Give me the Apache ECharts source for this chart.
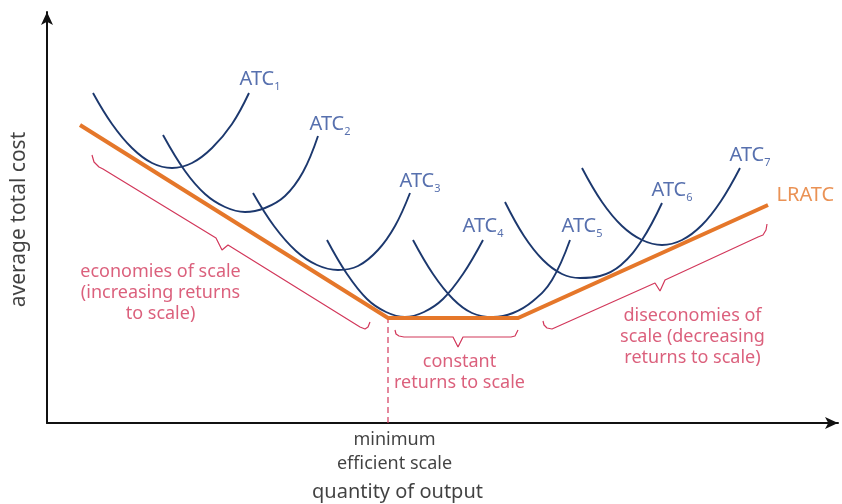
<!DOCTYPE html>
<html>
<head>
<meta charset="utf-8">
<script src="https://cdn.jsdelivr.net/npm/echarts@6/dist/echarts.min.js"></script>
<style>
html,body{margin:0;padding:0;background:#fff;}
#chart{width:842px;height:504px;}
</style>
</head>
<body>
<div id="chart"></div>
<script>
// ---- data (quantity, cost) in chart units ----
const lratc = [[33,298],[341,105],[471,105],[721,218]];
const atc1 = [[46,330],[65,299],[85,275],[105,260],[125,255],[145,260],[165,275],[185,299],[202,330]];
const atc2 = [[116,288],[138,252],[158,229],[178,216],[198,211],[218,215],[238,227],[256,251],[271,287]];
const atc3 = [[206,230],[227,197],[249,172],[270,158],[291,153],[311,157],[331,173],[348,197],[363,230]];
const atc4 = [[280,183],[300,149],[320,124],[339,111],[358,106],[377,111],[396,124],[416,149],[436,183]];
const atc5 = [[366,183],[386,149],[406,124],[425,110],[446,106],[466,110],[486,122],[505,143],[523,183]];
const atc6 = [[458,221],[477,187],[496,163],[515,149],[533,145],[553,147],[574,158],[595,183],[615,220]];
const atc7 = [[535,255],[555,221],[575,197],[595,183],[615,178],[635,183],[655,198],[674,222],[693,255]];
const minEfficientLine = [[341,0],[341,105]];
const braceEconomies = [[45,268],[47,261],[52,256],[56,254],[169,185],[175,173],[181,178],[313,96],[318,94],[321,96],[323,101]];
const braceConstant = [[348,93],[349,89],[352,87],[357,86],[406,86],[411,76],[416,86],[464,86],[468,87],[470,89],[471,93]];
const braceDiseconomies = [[496,102],[497,98],[500,95],[505,94],[608,140],[613,132],[618,143],[711,186],[716,188],[719,193],[720,199]];
// labels: [text, subscript, x, y]
const atcLabels = [
  ['ATC','1',193,343],['ATC','2',263,298],['ATC','3',353,241],['ATC','4',416,196],
  ['ATC','5',515,196],['ATC','6',605,232],['ATC','7',683,267]
];
const lratcLabel = ['LRATC',730,227];
const redNotes = [
  ['economies of scale\n(increasing returns\nto scale)',114,130],
  ['constant\nreturns to scale',413,50],
  ['diseconomies of\nscale (decreasing\nreturns to scale)',646,86]
];
const mesNote = ['minimum\nefficient scale',348,-29];
const xTitle = ['quantity of output',351,-70];
const yTitle = ['average total cost',-27,203];

const FONT = 'Noto Sans';
const BLUE = '#1c386e';
const ORANGE = '#e5772a';
const RED = '#d2385b';

function curve(data){
  return {type:'line', data:data, smooth:0.4, symbol:'none', silent:true,
    lineStyle:{color:BLUE, width:1.9}, z:2};
}
function brace(data){
  return {type:'line', data:data, smooth:false, symbol:'none', silent:true,
    lineStyle:{color:RED, width:1.2}, z:1};
}
function textSeries(items, labelOpt){
  return {type:'scatter', clip:false, silent:true, symbolSize:1, z:5,
    itemStyle:{color:'transparent'},
    data: items.map(t=>({name:t[0], value:[t[1],t[2]]})),
    label: Object.assign({show:true, position:[0,0], formatter:p=>p.name, fontFamily:FONT}, labelOpt)};
}

const chart = echarts.init(document.getElementById('chart'), null, {renderer:'canvas'});
const axisCommon = {
  type:'value', axisTick:{show:false}, axisLabel:{show:false}, splitLine:{show:false},
  axisLine:{show:true, symbol:['none','arrow'], symbolSize:[9,13], lineStyle:{color:'#111', width:2}}
};
chart.setOption({
  animation:false,
  backgroundColor:'#fff',
  textStyle:{fontFamily:FONT},
  grid:{left:47, right:4, top:12, bottom:81},
  xAxis:Object.assign({min:0, max:791}, axisCommon),
  yAxis:Object.assign({min:0, max:411}, axisCommon),
  series:[
    {type:'line', data:minEfficientLine, symbol:'none', silent:true,
      lineStyle:{color:RED, width:1.2, type:[6,4]}, z:1},
    brace(braceEconomies), brace(braceConstant), brace(braceDiseconomies),
    curve(atc1), curve(atc2), curve(atc3), curve(atc4), curve(atc5), curve(atc6), curve(atc7),
    {type:'line', data:lratc, symbol:'none', silent:true,
      lineStyle:{color:ORANGE, width:4, join:'miter'}, z:3},
    {type:'scatter', clip:false, silent:true, symbolSize:1, z:5, itemStyle:{color:'transparent'},
      data: atcLabels.map(t=>({name:t[0], sub:t[1], value:[t[2],t[3]]})),
      label:{show:true, position:[0,0], align:'left', verticalAlign:'middle',
        formatter:p=>'{a|'+p.name+'}{b|'+p.data.sub+'}',
        rich:{
          a:{fontFamily:FONT, fontSize:20, color:'#2d4c9a', lineHeight:26},
          b:{fontFamily:FONT, fontSize:11, color:'#2d4c9a', lineHeight:13, verticalAlign:'bottom'}
        }}},
    textSeries([lratcLabel], {align:'left', verticalAlign:'middle', fontSize:20, color:ORANGE}),
    textSeries(redNotes, {align:'center', verticalAlign:'middle', fontSize:18, lineHeight:21, color:RED}),
    textSeries([mesNote], {align:'center', verticalAlign:'middle', fontSize:18, lineHeight:24, color:'#111'}),
    textSeries([xTitle], {align:'center', verticalAlign:'middle', fontSize:20, color:'#111'}),
    textSeries([yTitle], {align:'center', verticalAlign:'middle', fontSize:21, color:'#111', rotate:90})
  ]
});
</script>
</body>
</html>
